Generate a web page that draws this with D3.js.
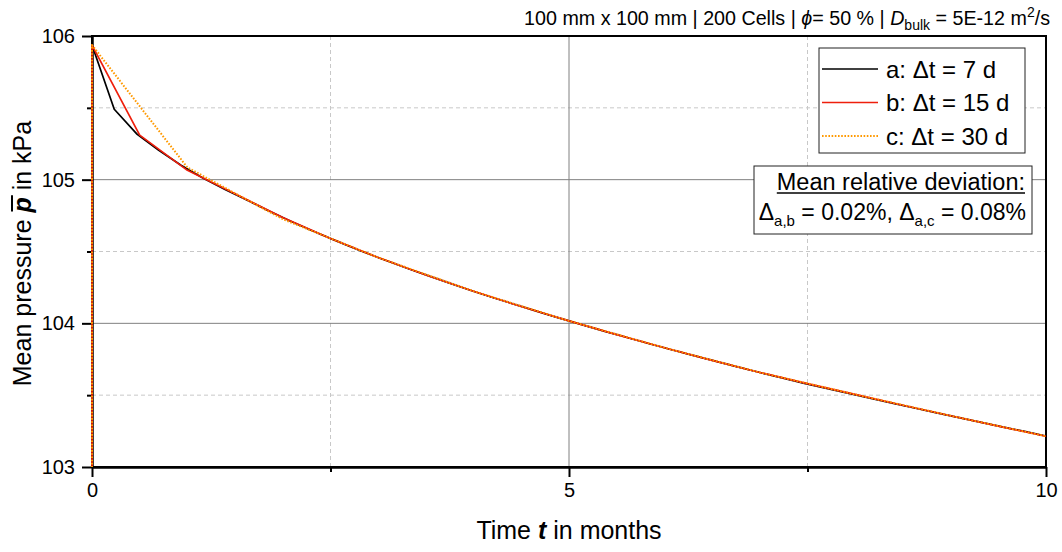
<!DOCTYPE html>
<html>
<head>
<meta charset="utf-8">
<script src="https://cdn.jsdelivr.net/npm/d3@7"></script>
<style>
  html, body { margin: 0; padding: 0; background: #fff; }
  svg { display: block; font-family: "Liberation Sans", Arial, sans-serif; }
</style>
</head>
<body>
<svg id="chart" width="1062" height="552"></svg>
<script>
// ---- data -------------------------------------------------------------
const DAYS_PER_MONTH = 30;
const P_INITIAL = 101.325;          // pressure before the first step (kPa)

// a: time step 7 d
const daysA = [0, 7, 14, 21, 28, 35, 42, 49, 56, 63, 70, 77, 84, 91, 98, 105,
  112, 119, 126, 133, 140, 147, 154, 161, 168, 175, 182, 189, 196, 203, 210,
  217, 224, 231, 238, 245, 252, 259, 266, 273, 280, 287, 294, 301];
const pressureA = [105.937, 105.49, 105.32, 105.205, 105.10, 105.01, 104.93,
  104.855, 104.778, 104.705, 104.637, 104.572, 104.509, 104.449, 104.392,
  104.336, 104.283, 104.230, 104.180, 104.131, 104.083, 104.036, 103.991,
  103.946, 103.903, 103.860, 103.818, 103.777, 103.737, 103.697, 103.658,
  103.620, 103.582, 103.547, 103.512, 103.477, 103.443, 103.409, 103.375,
  103.342, 103.309, 103.276, 103.244, 103.211];

// b: time step 15 d
const daysB = [0, 15, 30, 45, 60, 75, 90, 105, 120, 135, 150, 165, 180, 195,
  210, 225, 240, 255, 270, 285, 300];
const pressureB = [105.937, 105.31, 105.065, 104.902, 104.736, 104.590,
  104.458, 104.336, 104.223, 104.117, 104.017, 103.921, 103.830, 103.742,
  103.658, 103.58, 103.505, 103.43, 103.357, 103.285, 103.214];

// c: time step 30 d
const daysC = [0, 30, 60, 90, 120, 150, 180, 210, 240, 270, 300];
const pressureC = [105.937, 105.085, 104.725, 104.458, 104.223, 104.017,
  103.830, 103.658, 103.505, 103.357, 103.214];

const seriesKeys   = ["a", "b", "c"];
const seriesSteps  = [7, 15, 30];
const seriesColors = ["#000000", "#ee1f0c", "#ff9900"];
const seriesDashes = [null, null, "1.6,1.6"];

const xMajorTicks = [0, 5, 10];
const xMinorTicks = [2.5, 7.5];
const yMajorTicks = [103, 104, 105, 106];
const yMinorTicks = [103.5, 104.5, 105.5];

const deviationAB = "0.02%";
const deviationAC = "0.08%";

// ---- layout -----------------------------------------------------------
const svg = d3.select("#chart");
const W = 1062, H = 552;
const m = { left: 92, right: 16, top: 36, bottom: 85 };
const x = d3.scaleLinear().domain([0, 10]).range([m.left, W - m.right]);
const y = d3.scaleLinear().domain([103, 106]).range([H - m.bottom, m.top]);
const x0 = x.range()[0], x1 = x.range()[1];
const yB = y.range()[0], yT = y.range()[1];

// ---- grid -------------------------------------------------------------
const grid = svg.append("g");
grid.selectAll(".gxm").data(xMinorTicks).join("line")
  .attr("x1", d => x(d)).attr("x2", d => x(d)).attr("y1", yT).attr("y2", yB)
  .attr("stroke", "#c8c8c8").attr("stroke-width", 1).attr("stroke-dasharray", "4,3");
grid.selectAll(".gym").data(yMinorTicks).join("line")
  .attr("y1", d => y(d)).attr("y2", d => y(d)).attr("x1", x0).attr("x2", x1)
  .attr("stroke", "#c8c8c8").attr("stroke-width", 1).attr("stroke-dasharray", "4,3");
grid.selectAll(".gxM").data(xMajorTicks.filter(d => d > 0 && d < 10)).join("line")
  .attr("x1", d => x(d)).attr("x2", d => x(d)).attr("y1", yT).attr("y2", yB)
  .attr("stroke", "#808080").attr("stroke-width", 1);
grid.selectAll(".gyM").data(yMajorTicks.filter(d => d > 103 && d < 106)).join("line")
  .attr("y1", d => y(d)).attr("y2", d => y(d)).attr("x1", x0).attr("x2", x1)
  .attr("stroke", "#808080").attr("stroke-width", 1);

// ---- frame and axes ---------------------------------------------------
svg.append("rect").attr("x", x0).attr("y", yT).attr("width", x1 - x0).attr("height", yB - yT)
  .attr("fill", "none").attr("stroke", "#000").attr("stroke-width", 2);

function styleAxis(g) {
  g.select(".domain").attr("stroke", "#000").attr("stroke-width", 2);
  g.selectAll(".tick line").attr("stroke", "#000").attr("stroke-width", 2);
  g.selectAll(".tick text").attr("fill", "#000")
    .style("font-family", "'Liberation Sans', Arial, sans-serif").style("font-size", "20px");
}

svg.append("g").attr("transform", `translate(0,${yB})`)
  .call(d3.axisBottom(x).tickValues(xMinorTicks).tickSize(5).tickSizeOuter(0).tickFormat(""))
  .call(styleAxis);
svg.append("g").attr("transform", `translate(${x0},0)`)
  .call(d3.axisLeft(y).tickValues(yMinorTicks).tickSize(5).tickSizeOuter(0).tickFormat(""))
  .call(styleAxis);
svg.append("g").attr("transform", `translate(0,${yB})`)
  .call(d3.axisBottom(x).tickValues(xMajorTicks).tickSize(10).tickSizeOuter(0)
    .tickPadding(6).tickFormat(d3.format("d")))
  .call(styleAxis);
svg.append("g").attr("transform", `translate(${x0},0)`)
  .call(d3.axisLeft(y).tickValues(yMajorTicks).tickSize(10).tickSizeOuter(0)
    .tickPadding(7).tickFormat(d3.format("d")))
  .call(styleAxis);

// ---- series -----------------------------------------------------------
svg.append("clipPath").attr("id", "plotClip").append("rect")
  .attr("x", x0 - 2).attr("y", yT).attr("width", x1 - x0 + 2).attr("height", yB - yT);

const seriesData = [
  { days: daysA, p: pressureA },
  { days: daysB, p: pressureB },
  { days: daysC, p: pressureC }
].map((s, i) => ({
  key: seriesKeys[i], step: seriesSteps[i], color: seriesColors[i], dash: seriesDashes[i],
  points: [{ t: 0, p: P_INITIAL }].concat(s.days.map((d, j) => ({ t: d / DAYS_PER_MONTH, p: s.p[j] })))
}));

const line = d3.line().x(d => x(d.t)).y(d => y(d.p));
svg.append("g").attr("clip-path", "url(#plotClip)")
  .selectAll("path").data(seriesData).join("path")
  .attr("d", d => line(d.points))
  .attr("fill", "none")
  .attr("stroke", d => d.color)
  .attr("stroke-width", (d, i) => i === 2 ? 2 : 1.7)
  .attr("stroke-dasharray", d => d.dash)
  .attr("stroke-linejoin", "round");

// ---- legend -----------------------------------------------------------
const lg = svg.append("g");
lg.append("rect").attr("x", 819).attr("y", 48).attr("width", 206).attr("height", 105)
  .attr("fill", "#fff").attr("stroke", "#222").attr("stroke-width", 1);
const rows = lg.selectAll(".row").data(seriesData).join("g")
  .attr("transform", (d, i) => `translate(0,${69 + i * 33.5})`);
rows.append("line").attr("x1", 822).attr("x2", 878).attr("y1", 0).attr("y2", 0)
  .attr("stroke", d => d.color).attr("stroke-width", (d, i) => i === 2 ? 2 : 1.7)
  .attr("stroke-dasharray", d => d.dash);
rows.append("text").attr("x", 886).attr("y", 8.5)
  .style("font-size", "24px").attr("fill", "#000")
  .text(d => `${d.key}: \u0394t = ${d.step} d`);

// ---- deviation box ----------------------------------------------------
const db = svg.append("g");
db.append("rect").attr("x", 754).attr("y", 166).attr("width", 278).attr("height", 68)
  .attr("fill", "#fff").attr("stroke", "#222").attr("stroke-width", 1);
const t1 = db.append("text").attr("x", 1025).attr("y", 190).attr("text-anchor", "end")
  .style("font-size", "23.5px").text("Mean relative deviation:");
const bb1 = t1.node().getBBox();
db.append("line").attr("x1", bb1.x).attr("x2", bb1.x + bb1.width)
  .attr("y1", 193).attr("y2", 193).attr("stroke", "#000").attr("stroke-width", 1.5);
const t2 = db.append("text").attr("x", 1026).attr("y", 220).attr("text-anchor", "end")
  .style("font-size", "23px");
t2.append("tspan").text("\u0394");
t2.append("tspan").attr("dy", 6).style("font-size", "15px").text("a,b");
t2.append("tspan").attr("dy", -6).text(` = ${deviationAB}, \u0394`);
t2.append("tspan").attr("dy", 6).style("font-size", "15px").text("a,c");
t2.append("tspan").attr("dy", -6).text(` = ${deviationAC}`);

// ---- header -----------------------------------------------------------
const hd = svg.append("text").attr("x", 1050).attr("y", 25).attr("text-anchor", "end")
  .style("font-size", "19.7px");
hd.append("tspan").text("100 mm x 100 mm | 200 Cells | ");
hd.append("tspan").style("font-style", "italic").text("\u03D5");
hd.append("tspan").text("= 50 % | ");
hd.append("tspan").style("font-style", "italic").text("D");
hd.append("tspan").attr("dy", 5).style("font-size", "14px").text("bulk");
hd.append("tspan").attr("dy", -5).text(" = 5E-12 m");
hd.append("tspan").attr("dy", -8).style("font-size", "14px").text("2");
hd.append("tspan").attr("dy", 8).text("/s");

// ---- axis titles ------------------------------------------------------
const xt = svg.append("text").attr("x", (x0 + x1) / 2).attr("y", 539)
  .attr("text-anchor", "middle").style("font-size", "25px");
xt.append("tspan").text("Time ");
xt.append("tspan").style("font-weight", "bold").style("font-style", "italic").text("t");
xt.append("tspan").text(" in months");

const ytg = svg.append("g").attr("transform", `translate(31,${(yT + yB) / 2 + 2}) rotate(-90)`);
const yt = ytg.append("text").attr("x", 0).attr("y", 0)
  .attr("text-anchor", "middle").style("font-size", "25px");
yt.append("tspan").text("Mean pressure ");
yt.append("tspan").style("font-weight", "bold").style("font-style", "italic").text("p");
yt.append("tspan").text(" in kPa");
// overbar on the mean symbol
const pIdx = "Mean pressure ".length;
const ytNode = yt.node();
const ps = ytNode.getStartPositionOfChar(pIdx), pe = ytNode.getEndPositionOfChar(pIdx);
ytg.append("line").attr("x1", ps.x + 1).attr("x2", pe.x + 2).attr("y1", -19).attr("y2", -19)
  .attr("stroke", "#000").attr("stroke-width", 2);
</script>
</body>
</html>
